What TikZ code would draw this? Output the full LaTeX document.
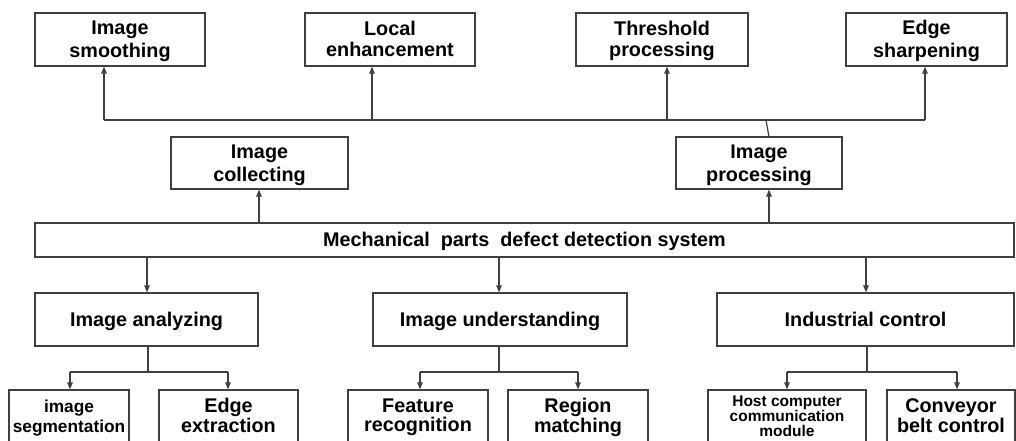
\documentclass[tikz,border=0pt]{standalone}
\usepackage{fontspec}
\setmainfont{Liberation Sans}
\usetikzlibrary{arrows.meta}
\newcommand{\sA}{\rule[-3.5pt]{0pt}{21pt}}
\newcommand{\sB}{\rule[-4pt]{0pt}{19pt}}
\newcommand{\sC}{\rule[-3.5pt]{0pt}{15pt}}
\begin{document}
\begin{tikzpicture}[x=1pt,y=-1pt,
  box/.style={draw=black!75, line width=1.2pt, inner sep=0pt, align=center,
    font=\bfseries\fontsize{19.8}{21}\selectfont},
  lowbox/.style={box, minimum height=54, font=\bfseries\fontsize{19.8}{19}\selectfont},
  conn/.style={draw=black!75, line width=1.2pt},
  arr/.style={conn, -{Triangle[length=7pt,width=5.5pt]}}]
\useasboundingbox (0,0) rectangle (1016,441);
\clip (0,0) rectangle (1016,441);
% top row
\node[box, minimum width=170, minimum height=53] (smooth) at (120,39.5) {\sA Image\\\sA smoothing};
\node[box, minimum width=170, minimum height=53] (local) at (390,39.5) {\sA Local\\\sA enhancement};
\node[box, minimum width=172, minimum height=53] (thresh) at (662,39.5) {\sA Threshold\\\sA processing};
\node[box, minimum width=161, minimum height=53] (sharp) at (926.5,39.5) {\sA Edge\\\sA sharpening};
% second row
\node[box, minimum width=177, minimum height=52] (collect) at (259.5,163) {\sA Image\\\sA collecting};
\node[box, minimum width=166, minimum height=52] (process) at (759,163) {\sA Image\\\sA processing};
% main
\node[box, minimum width=979, minimum height=34] (main) at (524.5,240) {\sA Mechanical\ \ parts\ \ defect detection system};
% middle row
\node[box, minimum width=223, minimum height=53] (analyze) at (146.5,319.5) {\sA Image analyzing};
\node[box, minimum width=254, minimum height=53] (understand) at (500,319.5) {\sA Image understanding};
\node[box, minimum width=297, minimum height=53] (industrial) at (865.5,319.5) {\sA Industrial control};
% bottom row
\node[lowbox, minimum width=120, font=\bfseries\fontsize{17.3}{18}\selectfont] (seg) at (69,417) {\sB image\\\sB segmentation};
\node[lowbox, minimum width=139] (edgeext) at (228.5,417) {\sB Edge\\\sB extraction};
\node[lowbox, minimum width=140] (feat) at (418,417) {\sB Feature\\\sB recognition};
\node[lowbox, minimum width=140] (region) at (578,417) {\sB Region\\\sB matching};
\node[lowbox, minimum width=158, font=\bfseries\fontsize{15.5}{15}\selectfont] (host) at (787,417) {\sC Host computer\\\sC communication\\\sC module};
\node[lowbox, minimum width=128] (conveyor) at (951,417) {\sB Conveyor\\\sB belt control};
% top bus
\coordinate (b1) at (104,120);
\coordinate (b2) at (372,120);
\coordinate (b3) at (667,120);
\coordinate (b4) at (925,120);
\coordinate (b5) at (766,120);
\coordinate (p1) at (769,137);
\draw[conn] (b1) -- (b4);
\draw[arr] (b1) -- (b1 |- smooth.south);
\draw[arr] (b2) -- (b2 |- local.south);
\draw[arr] (b3) -- (b3 |- thresh.south);
\draw[arr] (b4) -- (b4 |- sharp.south);
\draw[conn] (b5) -- (p1);
% main to second row
\coordinate (m1) at (259,223);
\coordinate (m2) at (769,223);
\draw[arr] (m1) -- (m1 |- collect.south);
\draw[arr] (m2) -- (m2 |- process.south);
% main to middle row
\coordinate (d1) at (147,257);
\coordinate (d2) at (499,257);
\coordinate (d3) at (866,257);
\draw[arr] (d1) -- (d1 |- analyze.north);
\draw[arr] (d2) -- (d2 |- understand.north);
\draw[arr] (d3) -- (d3 |- industrial.north);
% branches
\coordinate (a0) at (148,372);
\coordinate (a1) at (70,372);
\coordinate (a2) at (228,372);
\draw[conn] (a0 |- analyze.south) -- (a0);
\draw[conn] (a1) -- (a2);
\draw[arr] (a1) -- (a1 |- seg.north);
\draw[arr] (a2) -- (a2 |- edgeext.north);
\coordinate (u0) at (499,372);
\coordinate (u1) at (420,372);
\coordinate (u2) at (578,372);
\draw[conn] (u0 |- understand.south) -- (u0);
\draw[conn] (u1) -- (u2);
\draw[arr] (u1) -- (u1 |- feat.north);
\draw[arr] (u2) -- (u2 |- region.north);
\coordinate (i0) at (867,372);
\coordinate (i1) at (787,372);
\coordinate (i2) at (957,372);
\draw[conn] (i0 |- industrial.south) -- (i0);
\draw[conn] (i1) -- (i2);
\draw[arr] (i1) -- (i1 |- host.north);
\draw[arr] (i2) -- (i2 |- conveyor.north);
\end{tikzpicture}
\end{document}
